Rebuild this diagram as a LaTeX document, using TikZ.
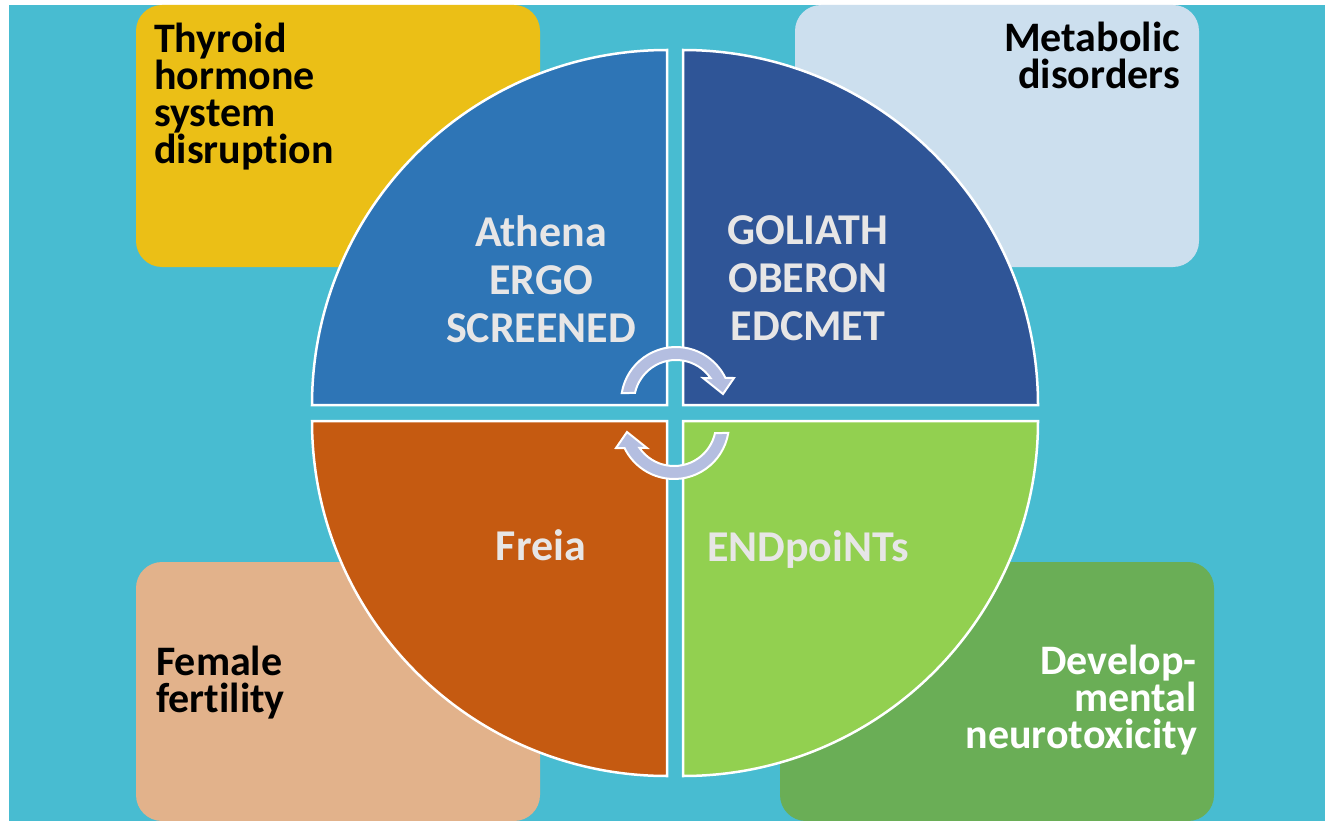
\documentclass[tikz,border=0pt]{standalone}
\usepackage{fontspec}
\setmainfont{Carlito}[RawFeature={-liga,-dlig,-clig}]
\definecolor{bgteal}{HTML}{48BCD1}
\definecolor{thyc}{HTML}{EBBF16}
\definecolor{metc}{HTML}{CCDFEE}
\definecolor{femc}{HTML}{E2B28B}
\definecolor{devc}{HTML}{6AAE56}
\definecolor{qtl}{HTML}{2E75B6}
\definecolor{qtr}{HTML}{2F5597}
\definecolor{qbl}{HTML}{C55A11}
\definecolor{qbr}{HTML}{92D050}
\definecolor{txtgray}{HTML}{E7E6E6}
\definecolor{arrowc}{HTML}{B4BEE0}
\begin{document}
\begin{tikzpicture}[x=1pt,y=1pt,
  quad/.style={draw=white, line width=2.5pt, line join=miter},
  box/.style={rounded corners=26pt},
  outtxt/.style={font=\fontsize{42}{37}\selectfont\bfseries, inner sep=0pt, text=black},
  intxt/.style={font=\fontsize{44}{48}\selectfont\bfseries, inner sep=0pt, text=txtgray, align=center},
  arr/.style={fill=arrowc, draw=white, line width=2pt, line join=miter}]
\useasboundingbox (0,0) rectangle (1325,-821);
\fill[white] (0,0) rectangle (1325,-821);
\fill[bgteal] (9,-5) rectangle (1325,-821);
% outer boxes
\fill[thyc, box] (136,-5) rectangle (540,-267);
\fill[metc, box] (795,-5) rectangle (1199,-267);
\fill[femc, box] (136,-562) rectangle (540,-821);
\fill[devc, box] (780,-562) rectangle (1214,-821);
% quadrants
\filldraw[quad, fill=qtl] (667,-405) -- (312,-405) arc (180:90:355) -- cycle;
\filldraw[quad, fill=qtr] (683,-405) -- (683,-50) arc (90:0:355) -- cycle;
\filldraw[quad, fill=qbl] (667,-421) -- (667,-776) arc (270:180:355) -- cycle;
\filldraw[quad, fill=qbr] (683,-421) -- (1038,-421) arc (0:-90:355) -- cycle;
% circular arrows
\filldraw[arr] ([shift={(676,-402)}]170.6:55) arc (170.6:25.9:55)
  -- (734,-378) -- (723,-394) -- (703,-378)
  -- ([shift={(676,-402)}]34.8:42) arc (34.8:167.6:42) -- cycle;
\begin{scope}[rotate around={180:(675,-413)}]
\filldraw[arr] ([shift={(676,-402)}]170.6:55) arc (170.6:25.9:55)
  -- (734,-378) -- (723,-394) -- (703,-378)
  -- ([shift={(676,-402)}]34.8:42) arc (34.8:167.6:42) -- cycle;
\end{scope}
% texts
\node[outtxt, anchor=base west, align=left] (thy) at (154,-164) {Thyroid\\hormone\\system\\disruption};
\node[outtxt, anchor=base east, align=right] (met) at (1180,-89) {Metabolic\\disorders};
\node[outtxt, anchor=base west, align=left] (fem) at (156,-712) {Female\\fertility};
\node[outtxt, text=white, anchor=base east, align=right] (dev) at (1197,-748) {Develop-\\mental\\neurotoxicity};
\node[intxt, anchor=base] (ath) at (541,-342) {Athena\\ERGO\\SCREENED};
\node[intxt, anchor=base] (gol) at (808,-340) {GOLIATH\\OBERON\\EDCMET};
\node[intxt, anchor=base] (fre) at (541,-560) {Freia};
\node[intxt, anchor=base] (end) at (808,-561) {ENDpoiNTs};
\end{tikzpicture}
\end{document}
